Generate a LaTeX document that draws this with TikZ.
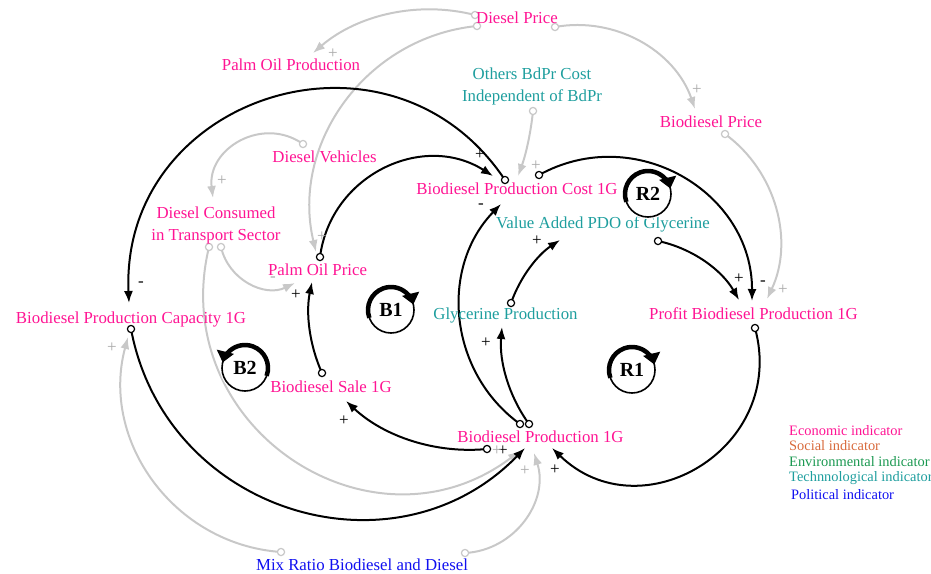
\documentclass[tikz,border=0pt]{standalone}
\usepackage{fontspec}
\setmainfont{Liberation Serif}
\usetikzlibrary{arrows.meta,calc}
\definecolor{ecoC}{HTML}{FF1493}
\definecolor{socC}{HTML}{D86A3C}
\definecolor{envC}{HTML}{1A9850}
\definecolor{tecC}{HTML}{1E9E9E}
\definecolor{polC}{HTML}{1010F0}
\definecolor{lnkG}{HTML}{C8C8C8}
\newcommand\cldarc[4][]{%
  \path let \p1=(#2), \p2=(#3), \p3=(#4) in \pgfextra{%
    \pgfmathsetmacro\cldA{atan2((\y1)-(\y2),(\x1)-(\x2))}%
    \pgfmathsetmacro\cldB{atan2((\y3)-(\y2),(\x3)-(\x2))}%
    \pgfmathsetmacro\cldD{mod((\cldB)-(\cldA)+540,360)-180}%
    \pgfmathsetmacro\cldT{ifthenelse(\cldD>0,180-\cldD,-180-\cldD)}%
    \pgfmathsetmacro\cldL{0.8514/(cos(\cldT/2)^2)}%
    \global\let\cldT\cldT \global\let\cldL\cldL};
  \draw[#1] (#2) to[bend left=\cldT, looseness=\cldL] (#4);
}
\newcommand\loopmark[4]{% name, center, label, direction (c = clockwise)
  \coordinate (#1) at (#2);
  \fill[white] (#1) circle[radius=25pt];
  \draw[line width=1.6pt] (#1) circle[radius=23pt];
  \ifx#4c
    \draw[line width=4.5pt,-{Triangle[length=11pt,width=17pt]}] ($(#1)+(200:23pt)$) arc[start angle=200,end angle=14,radius=23pt];
  \else
    \draw[line width=4.5pt,-{Triangle[length=11pt,width=17pt]}] ($(#1)+(-20:23pt)$) arc[start angle=-20,end angle=166,radius=23pt];
  \fi
  \node[font=\bfseries\fontsize{20}{20}\selectfont, inner sep=0pt] (#1-t) at (#1) {#3};
}
\tikzset{
  lbl/.style={font=\fontsize{16.8}{22}\selectfont, inner sep=0pt, align=center},
  eco/.style={lbl, text=ecoC},
  tec/.style={lbl, text=tecC},
  pol/.style={lbl, text=polC},
  leg/.style={font=\fontsize{14.4}{14}\selectfont, inner sep=0pt, anchor=west},
  blk/.style={line width=2pt, black, -{Latex[length=12pt,width=9pt]}},
  gry/.style={line width=2pt, lnkG, -{Latex[length=12pt,width=9pt]}},
  tailb/.style={draw=black, fill=white, line width=1.2pt},
  tailg/.style={draw=lnkG, fill=white, line width=1.2pt},
  sgnb/.style={font=\fontsize{17}{17}\selectfont, inner sep=0pt, text=black},
  sgng/.style={font=\fontsize{17}{17}\selectfont, inner sep=0pt, text=lnkG!85!black},
}
\begin{document}
\begin{tikzpicture}[x=1pt,y=-1pt]
\useasboundingbox (0,0) rectangle (931,573);
% connection points
\coordinate (costT1) at (505,180);
\coordinate (costT2) at (539,175);
\coordinate (popT) at (320,257);
\coordinate (vapT) at (658,241);
\coordinate (glyT) at (511,303);
\coordinate (prodT1) at (520,424);
\coordinate (prodT2) at (529,424);
\coordinate (prodT3) at (487,449);
\coordinate (profT) at (755,328);
\coordinate (saleT) at (322,373);
\coordinate (capT) at (131,329);
\coordinate (dpT1) at (475,15);
\coordinate (dpT2) at (477,26);
\coordinate (dpT3) at (555,27);
\coordinate (othT) at (533,111);
\coordinate (bpT) at (725,134);
\coordinate (dvT) at (303,144);
\coordinate (dcT1) at (221,247);
\coordinate (dcT2) at (209,247);
\coordinate (mixT1) at (281,552);
\coordinate (mixT2) at (465,553);
\coordinate (capH1) at (129,303);
\coordinate (capH2) at (128,337);
\coordinate (costH1) at (493,176);
\coordinate (costH2) at (501,204);
\coordinate (costH3) at (518,176);
\coordinate (profH1) at (752,301);
\coordinate (profH2) at (739,300);
\coordinate (profH3) at (767,299);
\coordinate (vapH) at (560,240);
\coordinate (glyH) at (502,327);
\coordinate (prodH1) at (525,448);
\coordinate (prodH2) at (552,448);
\coordinate (prodH3) at (520,451);
\coordinate (prodH4) at (534,453);
\coordinate (saleH) at (346,401);
\coordinate (popH1) at (312,282);
\coordinate (popH2) at (316,252);
\coordinate (popH3) at (295,283);
\coordinate (poprodH) at (313,53);
\coordinate (bpH) at (695,109);
\coordinate (dcH) at (213,198);
% gray links
\cldarc[gry]{dpT1}{400,12}{poprodH}
\cldarc[gry]{dpT2}{340,110}{popH2}
\cldarc[gry]{dpT3}{640,42}{bpH}
\cldarc[gry]{othT}{528,142}{costH3}
\cldarc[gry]{bpT}{778,220}{profH3}
\cldarc[gry]{dvT}{240,142}{dcH}
\cldarc[gry]{dcT1}{240,277}{popH3}
\cldarc[gry]{dcT2}{300,463}{prodH3}
\cldarc[gry]{mixT1}{167,497}{capH2}
\cldarc[gry]{mixT2}{524,520}{prodH4}
% black links
\cldarc[blk]{costT1}{310,90}{capH1}
\cldarc[blk]{popT}{400,163}{costH1}
\cldarc[blk]{costT2}{700,190}{profH1}
\cldarc[blk]{vapT}{705,262}{profH2}
\cldarc[blk]{glyT}{530,268}{vapH}
\cldarc[blk]{prodT1}{460,315}{costH2}
\cldarc[blk]{prodT2}{506,375}{glyH}
\cldarc[blk]{profT}{700,465}{prodH2}
\cldarc[blk]{prodT3}{417,442}{saleH}
\cldarc[blk]{saleT}{310,330}{popH1}
\cldarc[blk]{capT}{367,518}{prodH1}
% tails
\foreach \t in {dpT1,dpT2,dpT3,othT,bpT,dvT,dcT1,dcT2,mixT1,mixT2}
  \draw[tailg] (\t) circle[radius=3.6pt];
\foreach \t in {costT1,costT2,popT,vapT,glyT,prodT1,prodT2,prodT3,profT,saleT,capT}
  \draw[tailb] (\t) circle[radius=3.6pt];
% variables
\node[eco] (dprice) at (517,18) {Diesel Price};
\node[eco] (poprod) at (291,65) {Palm Oil Production};
\node[tec] (others) at (532,86) {Others BdPr Cost\\Independent of BdPr};
\node[eco] (bprice) at (711,122) {Biodiesel Price};
\node[eco] (dveh) at (324.5,157) {Diesel Vehicles};
\node[eco] (cost) at (517,189) {Biodiesel Production Cost 1G};
\node[eco] (dcons) at (216,225) {Diesel Consumed\\in Transport Sector};
\node[tec] (vap) at (603,224) {Value Added PDO of Glycerine};
\node[eco] (poprice) at (317.5,270) {Palm Oil Price};
\node[eco] (cap) at (131,319) {Biodiesel Production Capacity 1G};
\node[tec] (gly) at (505.5,315) {Glycerine Production};
\begin{scope}
\clip (600,290) rectangle (857,340);
\node[eco, anchor=west] (profit) at (649,314) {Profit Biodiesel Production 1G};
\end{scope}
\node[eco] (sale) at (331,387) {Biodiesel Sale 1G};
\node[eco] (prod) at (540.5,437) {Biodiesel Production 1G};
\node[pol] (mix) at (362,565) {Mix Ratio Biodiesel and Diesel};
% signs
\node[sgnb] (s1) at (141,284) {-};
\node[sgnb] (s2) at (480,155) {+};
\node[sgnb] (s3) at (763,283) {-};
\node[sgnb] (s4) at (739,279) {+};
\node[sgnb] (s5) at (537,241) {+};
\node[sgnb] (s6) at (481,206) {-};
\node[sgnb] (s7) at (486,343) {+};
\node[sgnb] (s8) at (555,470) {+};
\node[sgnb] (s9) at (344,421) {+};
\node[sgnb] (s10) at (296,295) {+};
\node[sgnb] (s11) at (503,451) {+};
\node[sgng] (g1) at (333,54) {+};
\node[sgng] (g2) at (322,237) {+};
\node[sgng] (g3) at (697,90) {+};
\node[sgng] (g4) at (536,166) {+};
\node[sgng] (g5) at (783,290) {+};
\node[sgng] (g6) at (222,181) {+};
\node[sgng] (g7) at (273,279) {-};
\node[sgng] (g8) at (497,451) {+};
\node[sgng] (g9) at (112,348) {+};
\node[sgng] (g10) at (525,471) {+};
% loop markers
\loopmark{B1}{391,310}{B1}{c}
\loopmark{B2}{245,368}{B2}{a}
\loopmark{R1}{632,370}{R1}{c}
\loopmark{R2}{648,194}{R2}{c}
% legend
\node[leg, text=ecoC] (l1) at (789,431) {Economic indicator};
\node[leg, text=socC] (l2) at (789,446) {Social indicator};
\node[leg, text=envC] (l3) at (789,462) {Environmental indicator};
\node[leg, text=tecC] (l4) at (789,478) {Technnological indicator};
\node[leg, text=polC] (l5) at (791,495) {Political indicator};
\end{tikzpicture}
\end{document}
